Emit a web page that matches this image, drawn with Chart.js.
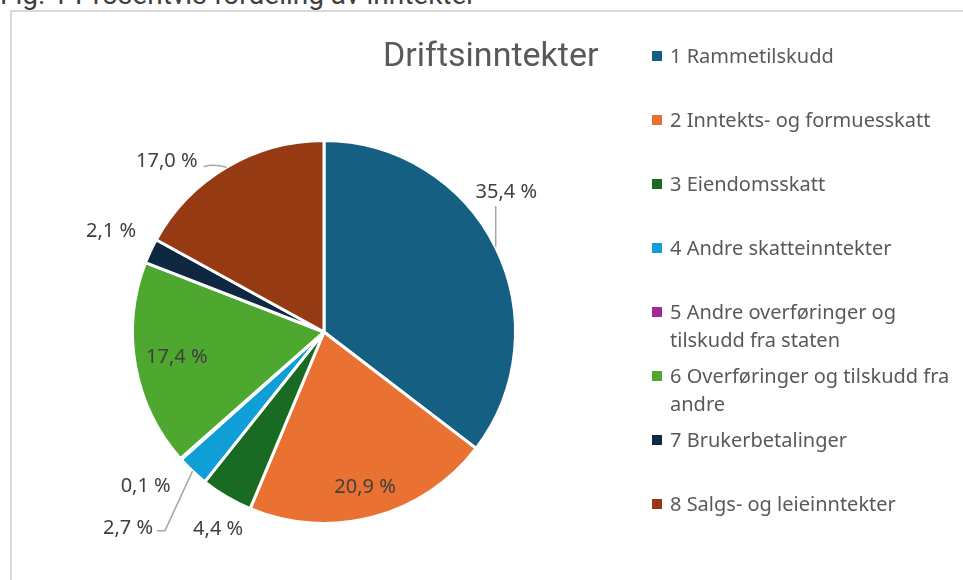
<!DOCTYPE html>
<html>
<head>
<meta charset="utf-8">
<script src="https://cdn.jsdelivr.net/npm/chart.js@4.4.1/dist/chart.umd.min.js"></script>
<style>
  body { margin: 0; width: 963px; height: 580px; overflow: hidden; background: #fff; }
  #caption { position: absolute; left: 0; top: -19px; font: 28px Roboto, sans-serif; line-height: 28px; color: #404040; white-space: nowrap; }
  #frame { position: absolute; left: 10px; top: 10px; width: 1000px; height: 620px; border: 2px solid #d9d9d9; }
  #title { position: absolute; left: 383px; top: 34px; font: 34px Roboto, sans-serif; line-height: 40px; color: #595959; white-space: nowrap; }
  #wrap { position: absolute; left: 12px; top: 12px; width: 951px; height: 568px; }
  #legend { position: absolute; left: 652px; top: 0; font: 20px "Noto Sans", sans-serif; color: #595959; }
  .item { position: absolute; left: 0; width: 292px; line-height: 28px; padding-left: 18px; }
  .box { position: absolute; left: 0; top: 9px; width: 10px; height: 10px; }
</style>
</head>
<body>
<div id="caption">Fig. 1 Prosentvis fordeling av inntekter</div>
<div id="frame"></div>
<div id="wrap"><canvas id="pie" width="951" height="568"></canvas></div>
<div id="title">Driftsinntekter</div>
<div id="legend"></div>
<script>
// data
const categories = [
    '1 Rammetilskudd',
    '2 Inntekts- og formuesskatt',
    '3 Eiendomsskatt',
    '4 Andre skatteinntekter',
    '5 Andre overføringer og tilskudd fra staten',
    '6 Overføringer og tilskudd fra andre',
    '7 Brukerbetalinger',
    '8 Salgs- og leieinntekter'
];
const shares = [35.4, 20.9, 4.4, 2.7, 0.1, 17.4, 2.1, 17.0];
const colors = ['#156082', '#e97132', '#196b24', '#0f9ed5', '#a02b93', '#4ea72e', '#0e2841', '#953a13'];

// label placement (angle clockwise from top in degrees, distance as share of radius)
const labelAngle = [52.5, 165.2, 208.2, 224.9, 229.2, 260.3, 295.3, 317.3];
const labelDist = [1.2, 0.84, 1.17, 1.45, 1.23, 0.78, 1.23, 1.21];
const leader = ['down', null, null, 'elbow', null, null, null, 'side'];

// legend (html, wrapped like the original)
const legendEl = document.getElementById('legend');
categories.forEach((name, i) => {
    const item = document.createElement('div');
    item.className = 'item';
    item.style.top = (42 + 64 * i) + 'px';
    item.innerHTML = '<span class="box" style="background:' + colors[i] + '"></span>' + name;
    legendEl.appendChild(item);
});

function fmt(v) {
    return v.toFixed(1).replace('.', ',') + '\u00a0%';
}

const pieLabels = {
    id: 'pieLabels',
    afterDatasetsDraw(chart) {
        const ctx = chart.ctx;
        const arcs = chart.getDatasetMeta(0).data;
        ctx.save();
        ctx.font = '20px "Noto Sans", sans-serif';
        ctx.textAlign = 'center';
        ctx.textBaseline = 'middle';
        arcs.forEach((arc, i) => {
            const p = arc.getProps(['x', 'y', 'startAngle', 'endAngle', 'outerRadius'], true);
            const a = labelAngle[i] * Math.PI / 180;
            const lx = p.x + Math.sin(a) * p.outerRadius * labelDist[i];
            const ly = p.y - Math.cos(a) * p.outerRadius * labelDist[i];
            const text = fmt(shares[i]);
            const w = ctx.measureText(text).width;

            // leader line to the middle of the slice edge
            if (leader[i]) {
                const mid = (p.startAngle + p.endAngle) / 2;
                const ex = p.x + Math.cos(mid) * p.outerRadius;
                const ey = p.y + Math.sin(mid) * p.outerRadius;
                ctx.strokeStyle = '#a6a6a6';
                ctx.lineWidth = 1.5;
                ctx.beginPath();
                if (leader[i] === 'down') {
                    ctx.moveTo(ex, ly + 14);
                    ctx.lineTo(ex, ey);
                } else if (leader[i] === 'elbow') {
                    ctx.moveTo(lx + w / 2 + 4, ly + 2);
                    ctx.lineTo(lx + w / 2 + 12, ly + 2);
                    ctx.lineTo(ex, ey);
                } else {
                    ctx.moveTo(lx + w / 2 + 6, ly + 5);
                    ctx.quadraticCurveTo(lx + w / 2 + 16, ly + 2, ex, ey);
                }
                ctx.stroke();
            }

            ctx.fillStyle = '#404040';
            ctx.fillText(text, lx, ly);
        });
        ctx.restore();
    }
};

new Chart(document.getElementById('pie'), {
    type: 'pie',
    data: {
        labels: categories,
        datasets: [{
            data: shares,
            backgroundColor: colors,
            borderColor: '#ffffff',
            borderWidth: 3
        }]
    },
    options: {
        responsive: false,
        animation: false,
        layout: {
            padding: { left: 119, top: 127, right: 446, bottom: 55 }
        },
        plugins: {
            legend: { display: false },
            tooltip: { enabled: false }
        }
    },
    plugins: [pieLabels]
});
</script>
</body>
</html>
